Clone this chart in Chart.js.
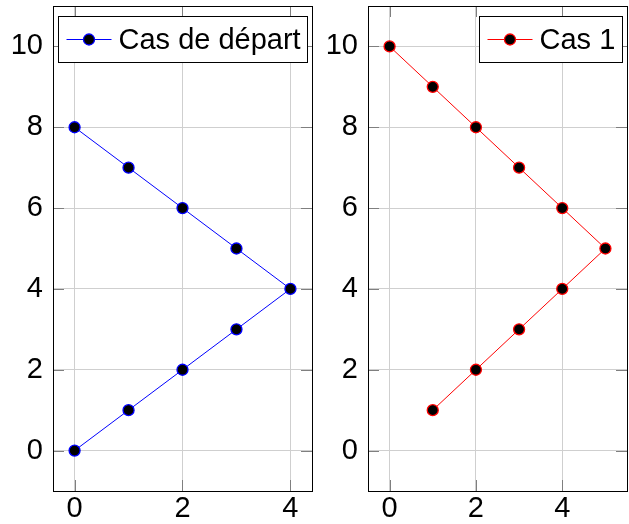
<!DOCTYPE html>
<html>
<head>
<meta charset="utf-8">
<script src="https://cdn.jsdelivr.net/npm/chart.js@4.4.1/dist/chart.umd.min.js"></script>
<style>
  html, body { margin: 0; padding: 0; background: #fff; overflow: hidden; }
  #wrap { position: relative; width: 629px; height: 524px; }
  canvas { position: absolute; top: 0; }
</style>
</head>
<body>
<div id="wrap">
  <canvas id="left" width="320" height="524" style="left:0px"></canvas>
  <canvas id="right" width="309" height="524" style="left:320px"></canvas>
</div>
<script>
// Series data
const leftX = [0, 1, 2, 3, 4, 3, 2, 1, 0];
const leftY = [8, 7, 6, 5, 4, 3, 2, 1, 0];
const rightX = [0, 1, 2, 3, 4, 5, 4, 3, 2, 1];
const rightY = [10, 9, 8, 7, 6, 5, 4, 3, 2, 1];
const leftLabel = 'Cas de départ';
const rightLabel = 'Cas 1';

// Tick values
const xTicks = [0, 2, 4];
const yTicks = [0, 2, 4, 6, 8, 10];

const FONT = 'Liberation Sans, Arial, Helvetica, sans-serif';
const FONT_SIZE = 29;

function points(xs, ys) {
  return xs.map((x, i) => ({ x: x, y: ys[i] }));
}

// Axis frame, inward tick marks and a legend box in the upper right corner
const framePlugin = {
  id: 'frame',
  beforeDatasetsDraw(chart) {
    const { ctx, chartArea: a, scales } = chart;
    ctx.save();
    ctx.strokeStyle = '#7f7f7f';
    ctx.lineWidth = 1;
    const L = 11;
    ctx.beginPath();
    scales.x.ticks.forEach(t => {
      const px = Math.round(scales.x.getPixelForValue(t.value)) + 0.5;
      ctx.moveTo(px, a.bottom); ctx.lineTo(px, a.bottom - L);
      ctx.moveTo(px, a.top); ctx.lineTo(px, a.top + L);
    });
    scales.y.ticks.forEach(t => {
      const py = Math.round(scales.y.getPixelForValue(t.value)) + 0.5;
      ctx.moveTo(a.left, py); ctx.lineTo(a.left + L, py);
      ctx.moveTo(a.right, py); ctx.lineTo(a.right - L, py);
    });
    ctx.stroke();
    ctx.strokeStyle = '#000';
    ctx.strokeRect(Math.round(a.left) + 0.5, Math.round(a.top) + 0.5,
                   Math.round(a.right - a.left), Math.round(a.bottom - a.top));
    ctx.restore();
  },
  afterDatasetsDraw(chart) {
    const { ctx, chartArea: a } = chart;
    const ds = chart.data.datasets[0];
    ctx.save();
    ctx.font = FONT_SIZE + 'px ' + FONT;
    const tw = ctx.measureText(ds.label).width;
    const w = Math.round(8 + 45 + 7 + tw + 7);
    const h = 46;
    const bx = Math.round(a.right - 0.02 * (a.right - a.left) - w) + 0.5;
    const by = Math.round(a.top + 0.02 * (a.bottom - a.top)) + 0.5;
    ctx.fillStyle = '#fff';
    ctx.fillRect(bx, by, w, h);
    ctx.strokeStyle = '#000';
    ctx.lineWidth = 1;
    ctx.strokeRect(bx, by, w, h);
    const cy = by + h / 2;
    ctx.strokeStyle = ds.borderColor;
    ctx.lineWidth = 1;
    ctx.beginPath();
    ctx.moveTo(bx + 8, cy); ctx.lineTo(bx + 53, cy);
    ctx.stroke();
    ctx.beginPath();
    ctx.arc(bx + 30.5, cy, 5.5, 0, Math.PI * 2);
    ctx.fillStyle = '#000';
    ctx.fill();
    ctx.lineWidth = 1.3;
    ctx.strokeStyle = ds.borderColor;
    ctx.stroke();
    ctx.fillStyle = '#000';
    ctx.textBaseline = 'middle';
    ctx.textAlign = 'left';
    ctx.fillText(ds.label, bx + 60, cy + 1);
    ctx.restore();
  }
};

function makeChart(id, xs, ys, label, color, xmin, xmax, yAxisWidth, padRight) {
  return new Chart(document.getElementById(id), {
    type: 'scatter',
    data: {
      datasets: [{
        label: label,
        data: points(xs, ys),
        showLine: true,
        borderColor: color,
        borderWidth: 1,
        pointBackgroundColor: '#000',
        pointBorderColor: color,
        pointBorderWidth: 1.3,
        pointRadius: 5.5,
        pointHoverRadius: 5.5,
        tension: 0
      }]
    },
    options: {
      responsive: false,
      animation: false,
      events: [],
      layout: { autoPadding: false, padding: { top: 6, right: padRight, left: 0, bottom: 0 } },
      plugins: { legend: { display: false }, tooltip: { enabled: false } },
      scales: {
        x: {
          type: 'linear',
          min: xmin, max: xmax,
          afterBuildTicks: s => { s.ticks = xTicks.map(v => ({ value: v })); },
          afterFit: s => { s.height = 33; s.paddingLeft = 0; s.paddingRight = 0; },
          grid: { color: '#cfcfcf', lineWidth: 1, drawTicks: false },
          border: { display: false },
          ticks: { color: '#000', font: { family: FONT, size: FONT_SIZE }, padding: 1, maxRotation: 0 }
        },
        y: {
          type: 'linear',
          min: -1, max: 11,
          afterBuildTicks: s => { s.ticks = yTicks.map(v => ({ value: v })); },
          afterFit: s => { s.width = yAxisWidth; s.paddingTop = 0; s.paddingBottom = 0; },
          grid: { color: '#cfcfcf', lineWidth: 1, drawTicks: false },
          border: { display: false },
          ticks: { color: '#000', font: { family: FONT, size: FONT_SIZE }, padding: 10 }
        }
      }
    },
    plugins: [framePlugin]
  });
}

makeChart('left', leftX, leftY, leftLabel, '#0000ff', -0.4, 4.4, 53, 8);
makeChart('right', rightX, rightY, rightLabel, '#ff0000', -0.5, 5.5, 48, 2);
</script>
</body>
</html>
